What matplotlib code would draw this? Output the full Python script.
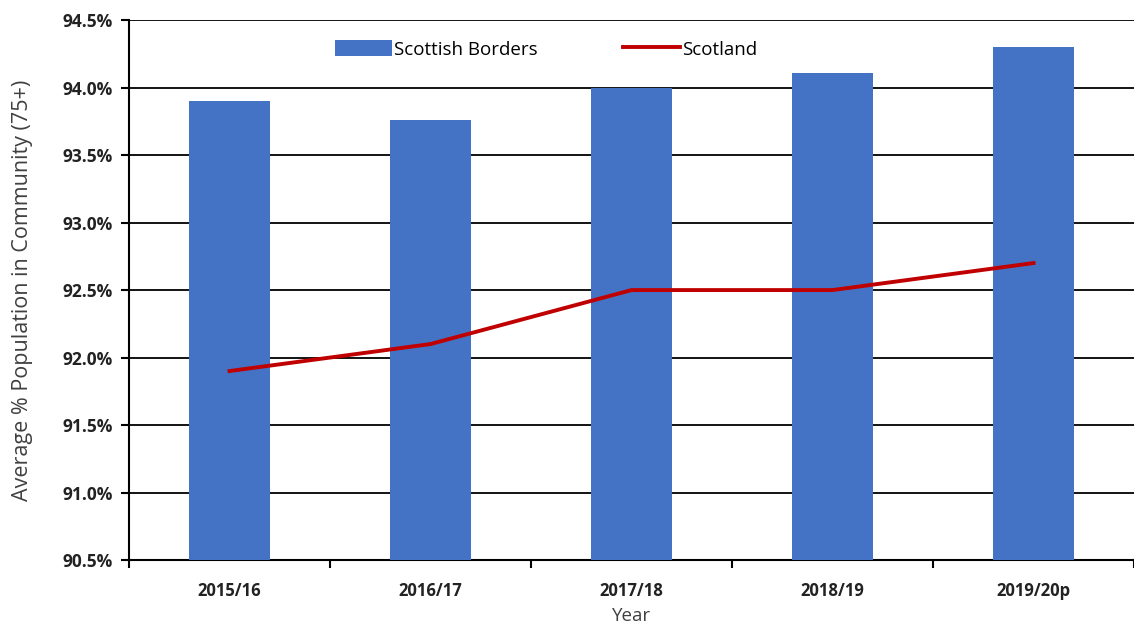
import matplotlib.pyplot as plt
from matplotlib.ticker import FuncFormatter

years = ["2015/16", "2016/17", "2017/18", "2018/19", "2019/20p"]
borders = [93.90, 93.76, 94.00, 94.11, 94.30]
scotland = [91.90, 92.10, 92.50, 92.50, 92.70]

plt.rcParams['font.family'] = ['Open Sans', 'DejaVu Sans']

fig = plt.figure(figsize=(11.34, 6.29), dpi=100)
ax = fig.add_axes([0.1138, 0.1097, 0.8862, 0.8583])

x = list(range(len(years)))
bars = ax.bar(x, [b - 90.5 for b in borders], bottom=90.5, width=0.4,
              color="#4472C4", label="Scottish Borders", zorder=3)
line, = ax.plot(x, scotland, color="#C00000", linewidth=2.8, label="Scotland", zorder=4)

ax.set_xlim(-0.5, 4.5)
ax.set_ylim(90.5, 94.5)
ax.set_yticks([90.5 + 0.5 * i for i in range(9)])
ax.yaxis.set_major_formatter(FuncFormatter(lambda v, p: f"{v:.1f}%"))
ax.grid(axis="y", color="black", linewidth=1.3, zorder=0)

ax.set_xticks(x)
ax.set_xticklabels(years, fontweight="bold", fontsize=12, color="#222222")
ax.set_xticks([i + 0.5 for i in range(-1, 5)], minor=True)
ax.tick_params(axis="x", which="major", length=0, pad=16)
ax.tick_params(axis="x", which="minor", length=6, width=1.5, direction="out")
ax.tick_params(axis="y", length=6, width=1.5, direction="out", pad=6)
for lab in ax.get_yticklabels():
    lab.set_fontweight("bold")
    lab.set_fontsize(12.5)
    lab.set_color("#222222")

for s in ["top", "right"]:
    ax.spines[s].set_visible(False)
ax.spines["left"].set_linewidth(1.5)
ax.spines["bottom"].set_linewidth(1.5)

ax.set_ylabel("Average % Population in Community (75+)", fontsize=15.5,
              color="#404040", va="center")
ax.yaxis.set_label_coords(-0.106, 0.5)
ax.set_xlabel("Year", fontsize=13.5, color="#404040", labelpad=5)

ax.legend([bars, line], ["Scottish Borders", "Scotland"],
          loc="upper center", bbox_to_anchor=(0.415, 0.995), ncol=2,
          frameon=False, fontsize=13.5, handlelength=3.0, handleheight=1.0,
          columnspacing=4.6, handletextpad=0.1)

fig.savefig("out.png", dpi=100)
